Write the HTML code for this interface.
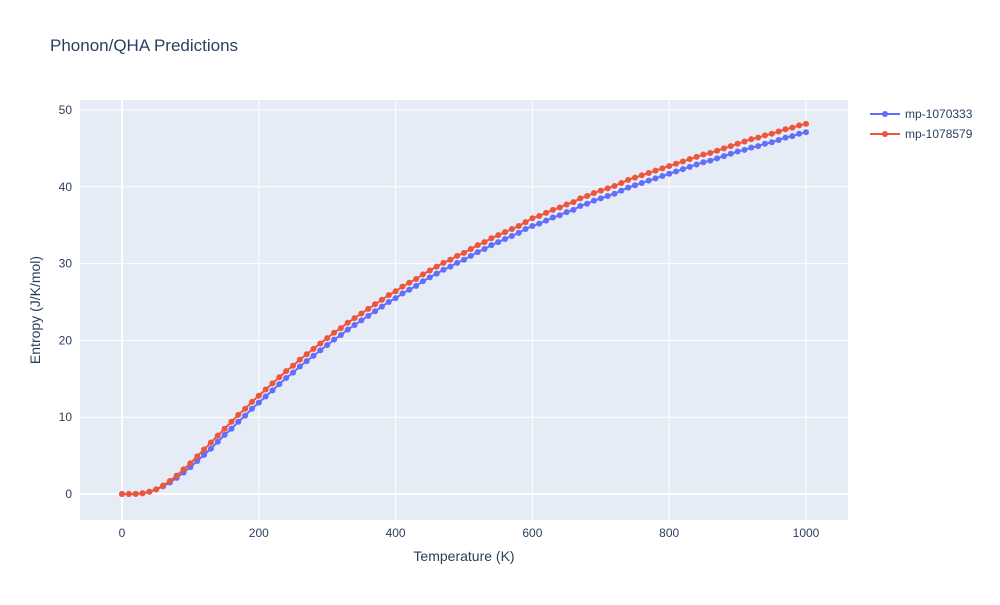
<!DOCTYPE html>
<html><head><meta charset="utf-8"><style>
body{margin:0;background:#fff;font-family:"Liberation Sans",sans-serif}
svg text{font-family:"Liberation Sans",sans-serif}
</style></head><body>
<svg id="chart" width="1000" height="600" xmlns="http://www.w3.org/2000/svg">
<rect width="1000" height="600" fill="#fff"/>
<text x="50" y="51" font-size="17" fill="#2a3f5f">Phonon/QHA Predictions</text>
<rect x="80" y="100" width="768" height="420" fill="#e5ecf6"/>
<g id="grid"></g><g id="ticks"></g><g id="series"></g>
<text x="464" y="561" font-size="14" fill="#2a3f5f" text-anchor="middle">Temperature (K)</text>
<text transform="translate(40,310) rotate(-90)" font-size="14" fill="#2a3f5f" text-anchor="middle">Entropy (J/K/mol)</text>
<g>
<g>
<line x1="870" y1="114" x2="900" y2="114" stroke="#636efa" stroke-width="2"/><circle cx="885" cy="114" r="3" fill="#636efa"/>
<text x="905" y="118" font-size="12" fill="#2a3f5f">mp-1070333</text></g>
<g>
<line x1="870" y1="134" x2="900" y2="134" stroke="#ef553b" stroke-width="2"/><circle cx="885" cy="134" r="3" fill="#ef553b"/>
<text x="905" y="138" font-size="12" fill="#2a3f5f">mp-1078579</text></g>
</g>
</svg>
<script>
const xTicks=[0,200,400,600,800,1000];
const yTicks=[0,10,20,30,40,50];
const temps=[];for(let t=0;t<=1000;t+=10)temps.push(t);
const seriesNames=["mp-1070333","mp-1078579"];
const seriesColors=["#636efa","#ef553b"];
const entropyA=[0,0,0.02,0.1,0.3,0.6,1.0,1.5,2.1,2.8,3.5,4.3,5.1,5.9,6.8,7.7,8.5,9.4,10.2,11.1,11.9,12.7,13.5,14.3,15.1,15.8,16.6,17.3,18.0,18.7,19.4,20.1,20.7,21.4,22.0,22.6,23.2,23.8,24.4,25.0,25.5,26.1,26.6,27.1,27.7,28.2,28.7,29.2,29.6,30.1,30.5,31.0,31.5,31.9,32.4,32.8,33.2,33.6,34.0,34.5,34.9,35.2,35.6,36.0,36.3,36.7,37.0,37.5,37.8,38.2,38.5,38.8,39.1,39.5,39.9,40.2,40.5,40.8,41.1,41.4,41.7,42.0,42.3,42.6,42.9,43.2,43.4,43.7,44.0,44.3,44.6,44.8,45.1,45.3,45.6,45.8,46.1,46.4,46.6,46.9,47.1];
const entropyB=[0,0,0.02,0.1,0.3,0.6,1.1,1.7,2.4,3.2,4.0,4.9,5.8,6.7,7.6,8.5,9.4,10.3,11.1,12.0,12.8,13.6,14.4,15.2,16.0,16.7,17.5,18.2,18.9,19.6,20.3,21.0,21.6,22.3,22.9,23.5,24.1,24.7,25.3,25.9,26.4,27.0,27.5,28.0,28.6,29.1,29.6,30.1,30.5,31.0,31.4,31.9,32.4,32.8,33.3,33.7,34.1,34.5,34.9,35.4,35.9,36.2,36.6,37.0,37.3,37.7,38.0,38.5,38.8,39.2,39.5,39.8,40.1,40.5,40.9,41.2,41.5,41.8,42.1,42.4,42.7,43.0,43.3,43.6,43.9,44.2,44.4,44.7,45.0,45.3,45.6,45.9,46.2,46.4,46.7,46.9,47.2,47.5,47.7,48.0,48.2];
const NS="http://www.w3.org/2000/svg";
const sx=t=>122+t*0.684;
const sy=v=>494-v*7.68;
function mk(tag,attrs,parent){const e=document.createElementNS(NS,tag);for(const k in attrs)e.setAttribute(k,attrs[k]);parent.appendChild(e);return e;}
const grid=document.getElementById('grid'),ticks=document.getElementById('ticks'),ser=document.getElementById('series');
xTicks.forEach(t=>{
 const l=mk('line',{x1:sx(t),x2:sx(t),y1:100,y2:520,stroke:'#fff','stroke-width':t===0?2:1},grid);
 
 
 const tx=mk('text',{x:sx(t),y:537,'font-size':12,fill:'#2a3f5f','text-anchor':'middle'},ticks);
 tx.textContent=t;
 
 
});
yTicks.forEach(v=>{
 const l=mk('line',{x1:80,x2:848,y1:sy(v),y2:sy(v),stroke:'#fff','stroke-width':v===0?2:1},grid);
 
 
 const tx=mk('text',{x:72,y:sy(v)+4,'font-size':12,fill:'#2a3f5f','text-anchor':'end'},ticks);
 tx.textContent=v;
 
 
});
[entropyA,entropyB].forEach((arr,i)=>{
 const g=mk('g',{},ser);
 
 
 const pts=arr.map((v,j)=>sx(temps[j])+','+sy(v)).join(' ');
 const pl=mk('polyline',{points:pts,fill:'none',stroke:seriesColors[i],'stroke-width':2},g);
 
 
 arr.forEach((v,j)=>{
  const c=mk('circle',{cx:sx(temps[j]),cy:sy(v),r:3,fill:seriesColors[i]},g);
  
  
 });
});
</script>
</body></html>
